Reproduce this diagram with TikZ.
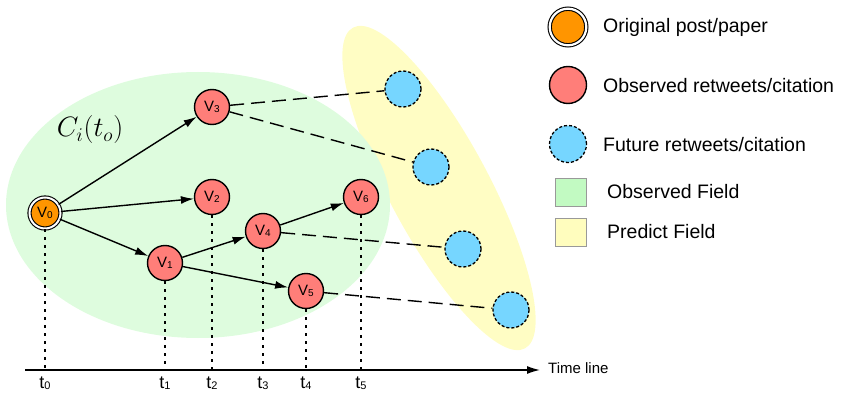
\documentclass[tikz,border=0pt]{standalone}
\usepackage[no-math]{fontspec}
\setmainfont{Liberation Sans}
\usetikzlibrary{arrows.meta}
\definecolor{orangeN}{RGB}{255,149,0}
\definecolor{redN}{RGB}{255,126,121}
\definecolor{blueN}{RGB}{118,214,255}
\definecolor{greenF}{RGB}{222,252,222}
\definecolor{yellowF}{RGB}{255,253,196}
\definecolor{greenL}{RGB}{194,250,194}
\definecolor{yellowL}{RGB}{255,253,190}
\newcommand{\vlab}[1]{{\fontsize{15}{15}\selectfont V\raisebox{-0.6pt}{\fontsize{10}{10}\selectfont #1}}}
\newcommand{\tlab}[1]{{\fontsize{18}{18}\selectfont t\raisebox{-1pt}{\fontsize{11}{11}\selectfont #1}}}
\begin{document}
\begin{tikzpicture}[x=1pt,y=-1pt,
  obs/.style={circle, draw=black, line width=1.4pt, fill=redN, minimum size=35pt, inner sep=0pt},
  fut/.style={circle, draw=black, line width=1.3pt, dash pattern=on 3pt off 2pt, fill=blueN, minimum size=36pt, inner sep=0pt},
  orig/.style={circle, draw=black, line width=1.1pt, double=white, double distance=2pt, fill=orangeN, minimum size=31pt, inner sep=0pt},
  arr/.style={-{Latex[length=13pt,width=8pt]}, line width=1.4pt},
  dashl/.style={line width=1.4pt, dash pattern=on 14pt off 7pt},
  dotl/.style={line width=1.8pt, dash pattern=on 2.5pt off 5.5pt},
  legtext/.style={anchor=west, font=\fontsize{19.5}{22}\selectfont, inner sep=0pt},
  legbox/.style={draw=black!40, line width=1pt, minimum width=31pt, minimum height=28pt, inner sep=0pt},
]
\useasboundingbox (0,0) rectangle (841,396);
% fields
\fill[yellowF, rotate around={-61.8:(439,188)}] (439,188) ellipse [x radius=182pt, y radius=50pt];
\fill[greenF] (198,205) ellipse [x radius=192pt, y radius=133pt];
\node (Clab) at (90,130) {\scalebox{1.35}{\fontsize{20.74}{24}\selectfont $C_i(t_o)$}};
% time line
\coordinate (TLs) at (25,370);
\coordinate (TLe) at (540,370);
\draw[arr] (TLs) -- (TLe);
\node[anchor=west, font=\fontsize{15}{15}\selectfont, inner sep=0pt] (TLlab) at (548,368) {Time line};
% nodes
\node[orig] (V0) at (45,213) {\vlab{0}};
\node[obs] (V1) at (165,263) {\vlab{1}};
\node[obs] (V2) at (212,197) {\vlab{2}};
\node[obs] (V3) at (212,107) {\vlab{3}};
\node[obs] (V4) at (263,231) {\vlab{4}};
\node[obs] (V5) at (306,291) {\vlab{5}};
\node[obs] (V6) at (361,197) {\vlab{6}};
\node[fut] (F1) at (403,89) {};
\node[fut] (F2) at (431,167) {};
\node[fut] (F3) at (463,249) {};
\node[fut] (F4) at (511,310) {};
% ticks
\coordinate (T0) at (45,370);
\coordinate (T1) at (165,370);
\coordinate (T2) at (212,370);
\coordinate (T3) at (263,370);
\coordinate (T4) at (306,370);
\coordinate (T5) at (361,370);
\draw[dotl] (V0) -- (T0);
\draw[dotl] (V1) -- (T1);
\draw[dotl] (V2) -- (T2);
\draw[dotl] (V4) -- (T3);
\draw[dotl] (V5) -- (T4);
\draw[dotl] (V6) -- (T5);
\node (t0) at (45,383) {\tlab{0}};
\node (t1) at (165,383) {\tlab{1}};
\node (t2) at (212,383) {\tlab{2}};
\node (t3) at (263,383) {\tlab{3}};
\node (t4) at (306,383) {\tlab{4}};
\node (t5) at (361,383) {\tlab{5}};
% edges
\draw[arr] (V0) -- (V3);
\draw[arr] (V0) -- (V2);
\draw[arr] (V0) -- (V1);
\draw[arr] (V1) -- (V4);
\draw[arr] (V1) -- (V5);
\draw[arr] (V4) -- (V6);
\draw[dashl] (V3) -- (F1);
\draw[dashl] (V3) -- (F2);
\draw[dashl] (V4) -- (F3);
\draw[dashl] (V5) -- (F4);
% legend
\node[orig, minimum size=36.6pt, double distance=2.2pt] (Lo) at (568,27) {};
\node[obs, minimum size=37pt] (Lr) at (568,85) {};
\node[fut, minimum size=37pt] (Lb) at (568,144) {};
\node[legbox, fill=greenL] (Lg) at (570.5,192) {};
\node[legbox, fill=yellowL] (Ly) at (570.5,232) {};
\node[legtext] (Lot) at (603,27) {Original post/paper};
\node[legtext] (Lrt) at (603,86) {Observed retweets/citation};
\node[legtext] (Lbt) at (603,145) {Future retweets/citation};
\node[legtext] (Lgt) at (607,192) {Observed Field};
\node[legtext] (Lyt) at (607,232) {Predict Field};
\end{tikzpicture}
\end{document}
